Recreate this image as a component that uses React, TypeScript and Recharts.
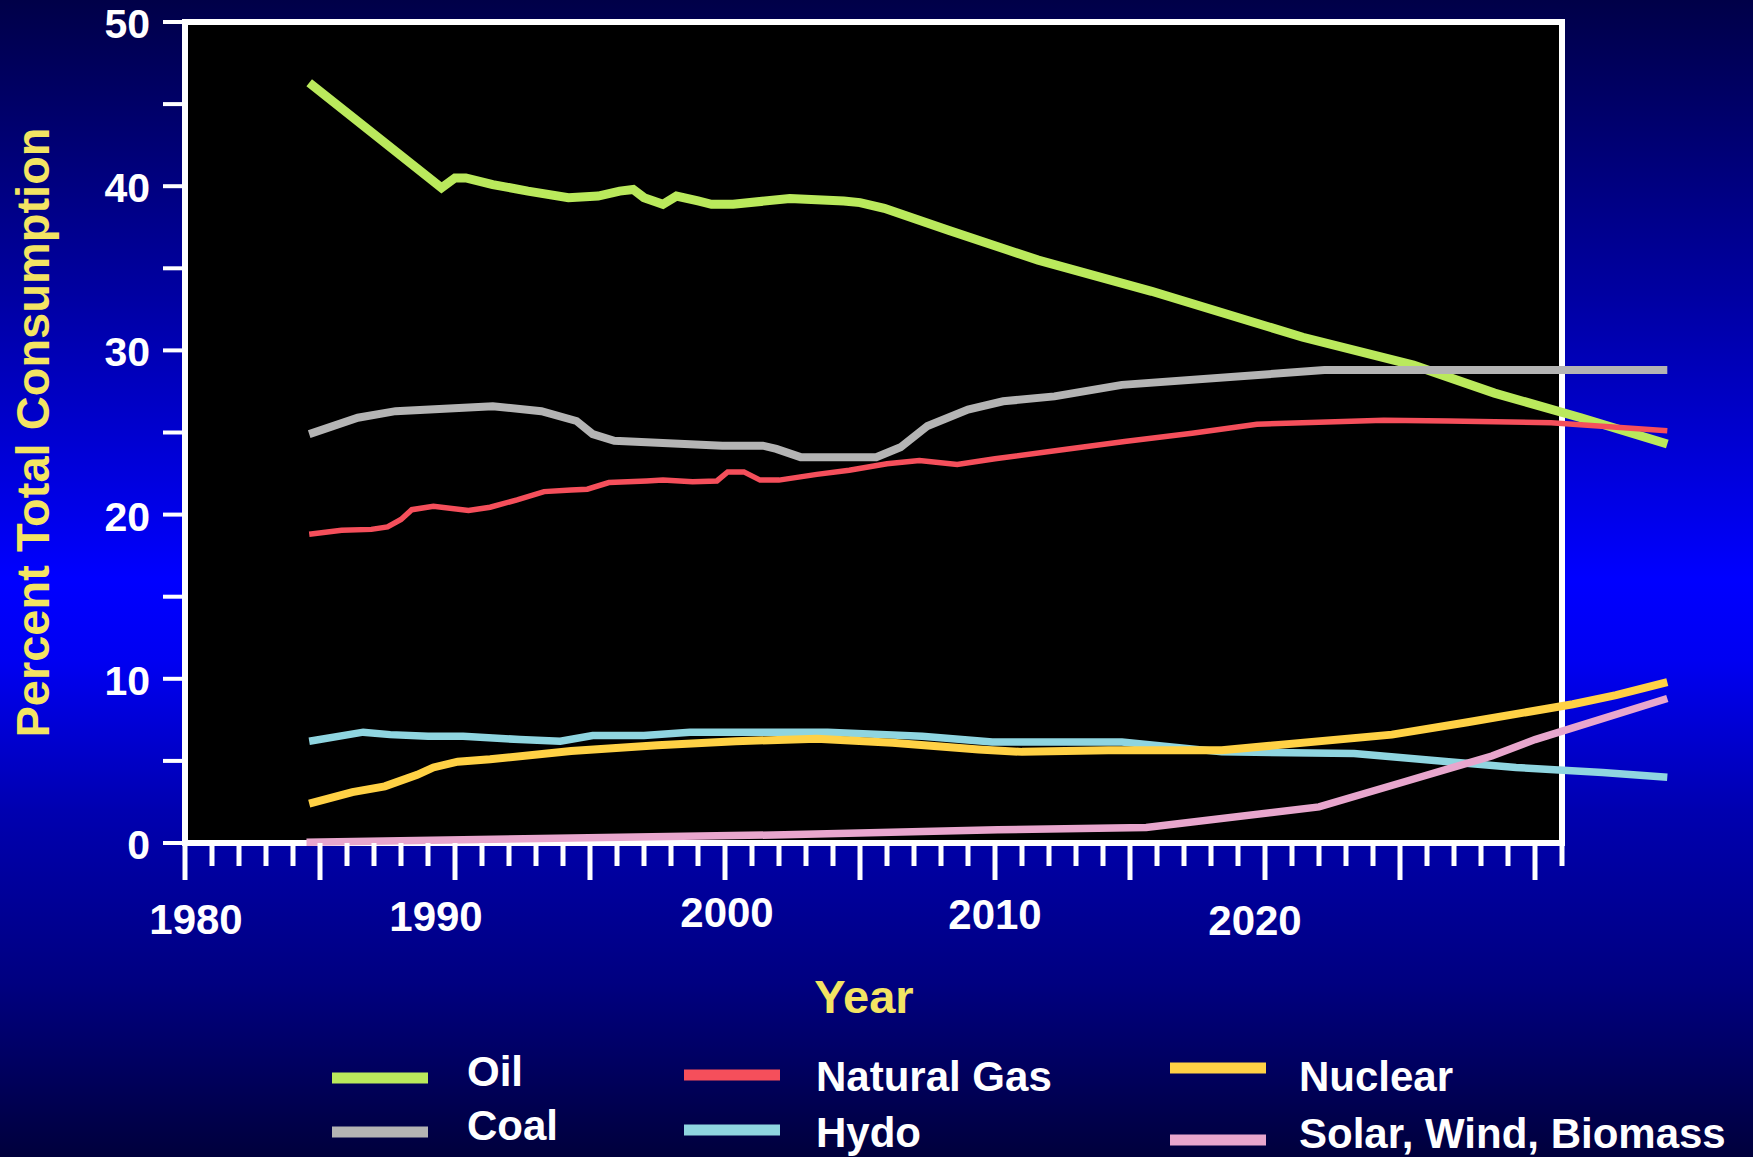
import { LineChart, Line, XAxis, YAxis, ReferenceArea, Legend } from "recharts";

const CHART_W = 1753;
const CHART_H = 1157;
const FONT = "'Liberation Sans', Arial, Helvetica, sans-serif";
const TITLE_COLOR = "#F3E463";

// share of total consumption (%) by source, x positions in years
const oilYears = [1984.6, 1989.5, 1990.0, 1990.4, 1991.4, 1992.7, 1994.2, 1995.3, 1996.1, 1996.6, 1997.0, 1997.7, 1998.2, 1999.0, 1999.5, 2000.3, 2002.4, 2004.4, 2005.0, 2005.9, 2008.3, 2011.6, 2015.8, 2021.4, 2025.5, 2028.5, 2031.7, 2034.9];
const oilShare = [46.3, 39.9, 40.5, 40.5, 40.1, 39.7, 39.3, 39.4, 39.7, 39.8, 39.3, 38.9, 39.4, 39.1, 38.9, 38.9, 39.25, 39.1, 39.0, 38.65, 37.3, 35.5, 33.6, 30.8, 29.1, 27.4, 25.9, 24.3];

const coalYears = [1984.6, 1986.4, 1987.8, 1991.4, 1993.2, 1994.5, 1995.1, 1995.9, 1999.9, 2001.4, 2001.9, 2002.8, 2005.6, 2006.5, 2007.5, 2009.0, 2010.3, 2012.2, 2014.7, 2022.2, 2034.9];
const coalShare = [24.9, 25.9, 26.3, 26.6, 26.3, 25.7, 24.9, 24.5, 24.2, 24.2, 24.0, 23.5, 23.5, 24.1, 25.4, 26.4, 26.9, 27.2, 27.9, 28.8, 28.8];

const gasYears = [1984.6, 1985.8, 1986.9, 1987.5, 1988.0, 1988.4, 1989.2, 1990.5, 1991.3, 1992.3, 1993.3, 1994.3, 1994.9, 1995.7, 1997.1, 1997.7, 1998.8, 1999.7, 2000.1, 2000.7, 2001.3, 2002.0, 2003.4, 2004.6, 2006.0, 2007.2, 2008.6, 2010.0, 2012.5, 2014.8, 2017.3, 2019.7, 2024.4, 2026.8, 2030.6, 2034.9];
const gasShare = [18.8, 19.05, 19.1, 19.25, 19.7, 20.3, 20.5, 20.25, 20.45, 20.9, 21.4, 21.5, 21.55, 21.95, 22.05, 22.1, 22.0, 22.05, 22.6, 22.6, 22.1, 22.1, 22.45, 22.7, 23.1, 23.3, 23.05, 23.4, 23.95, 24.45, 24.95, 25.5, 25.75, 25.7, 25.6, 25.1];

const hydroYears = [1984.6, 1986.6, 1987.6, 1989.0, 1990.3, 1992.4, 1993.9, 1995.1, 1997.0, 1998.7, 2003.8, 2007.3, 2009.9, 2014.7, 2018.4, 2023.3, 2026.8, 2029.3, 2032.5, 2034.9];
const hydroShare = [6.2, 6.75, 6.6, 6.5, 6.5, 6.3, 6.2, 6.55, 6.55, 6.75, 6.75, 6.5, 6.15, 6.15, 5.55, 5.45, 4.95, 4.6, 4.3, 4.0];

const nuclearYears = [1984.6, 1986.2, 1987.4, 1988.6, 1989.2, 1990.1, 1991.3, 1994.3, 1997.5, 2000.4, 2003.4, 2006.2, 2009.4, 2011.0, 2014.2, 2018.4, 2024.7, 2027.5, 2031.4, 2033.0, 2034.9];
const nuclearShare = [2.4, 3.1, 3.45, 4.15, 4.6, 4.95, 5.1, 5.6, 5.95, 6.2, 6.35, 6.1, 5.7, 5.55, 5.65, 5.65, 6.6, 7.35, 8.45, 9.0, 9.8];

const renewYears = [1984.5, 2002.2, 2010.1, 2015.6, 2022.0, 2025.1, 2028.4, 2030.0, 2034.9];
const renewShare = [0.05, 0.5, 0.8, 0.95, 2.2, 3.7, 5.3, 6.3, 8.8];

const pctTicks = [0, 5, 10, 15, 20, 25, 30, 35, 40, 45, 50];
const pctLabels = [0, 10, 20, 30, 40, 50];
const yearLabels = [1980, 1990, 2000, 2010, 2020];
// one tick mark per year along the bottom of the frame
const yearTicks = Array.from({ length: 52 }, (_, i) => 1980 + i);

// hand placement of the year labels (offset from tick, baseline below axis)
const yearLabelPlace: Record<number, { dx: number; dy: number }> = {
  1980: { dx: 11, dy: 91 },
  1990: { dx: -19, dy: 88 },
  2000: { dx: 2, dy: 84 },
  2010: { dx: 0, dy: 86 },
  2020: { dx: -10, dy: 92 },
};

const toPoints = (years: number[], values: number[]) =>
  years.map((year, i) => ({ year, value: values[i] }));

const series = [
  { key: "oil", name: "Oil", color: "#BAE95C", width: 9, data: toPoints(oilYears, oilShare) },
  { key: "coal", name: "Coal", color: "#B4B4B4", width: 8, data: toPoints(coalYears, coalShare) },
  { key: "gas", name: "Natural Gas", color: "#F54F5B", width: 5.5, data: toPoints(gasYears, gasShare) },
  { key: "hydro", name: "Hydo", color: "#8FD5E0", width: 7.5, data: toPoints(hydroYears, hydroShare) },
  { key: "nuclear", name: "Nuclear", color: "#FFD145", width: 8, data: toPoints(nuclearYears, nuclearShare) },
  { key: "renew", name: "Solar, Wind, Biomass", color: "#E8A6CD", width: 7.5, data: toPoints(renewYears, renewShare) },
];

// legend grid: swatch left edge, swatch centre, label left edge and baseline
const legendSpots: Record<string, { x: number; sy: number; tx: number; ty: number }> = {
  oil: { x: 332, sy: 1078, tx: 467, ty: 1086 },
  coal: { x: 332, sy: 1132, tx: 467, ty: 1140 },
  gas: { x: 684, sy: 1075, tx: 816, ty: 1091 },
  hydro: { x: 684, sy: 1130, tx: 816, ty: 1147 },
  nuclear: { x: 1170, sy: 1068, tx: 1299, ty: 1091 },
  renew: { x: 1170, sy: 1140, tx: 1299, ty: 1148 },
};

function YearTick(props: any) {
  const { x, y, payload } = props;
  const year = payload.value as number;
  const major = year % 5 === 0;
  const place = yearLabels.includes(year) ? yearLabelPlace[year] : null;
  return (
    <g>
      <line x1={x} x2={x} y1={y} y2={y + (major ? 37 : 23)} stroke="#fff" strokeWidth={5} />
      {place && (
        <text
          x={x + place.dx}
          y={y + place.dy}
          textAnchor="middle"
          fill="#fff"
          fontSize={42}
          fontWeight="bold"
          fontFamily={FONT}
        >
          {year}
        </text>
      )}
    </g>
  );
}

function PctTick(props: any) {
  const { x, y, payload } = props;
  if (!pctLabels.includes(payload.value)) return <g />;
  return (
    <text x={x} y={y + 16} textAnchor="end" fill="#fff" fontSize={41} fontWeight="bold" fontFamily={FONT}>
      {payload.value}
    </text>
  );
}

const yearTitle = (props: any) => {
  const vb = props.viewBox || { x: 185, y: 843 };
  return (
    <text x={vb.x + 679} y={vb.y + 170} textAnchor="middle" fill={TITLE_COLOR} fontSize={47} fontWeight="bold" fontFamily={FONT}>
      Year
    </text>
  );
};

const pctTitle = (props: any) => {
  const vb = props.viewBox || { x: 0, y: 22, width: 185, height: 821 };
  const cy = vb.y + vb.height / 2;
  return (
    <text
      transform={`translate(49, ${cy}) rotate(-90)`}
      textAnchor="middle"
      fill={TITLE_COLOR}
      fontSize={47}
      fontWeight="bold"
      fontFamily={FONT}
    >
      Percent Total Consumption
    </text>
  );
};

const renderLegend = () => (
  <svg width={CHART_W} height={CHART_H} style={{ position: "absolute", left: 0, top: 0, overflow: "visible" }}>
    {series.map((s) => {
      const spot = legendSpots[s.key];
      return (
        <g key={s.key}>
          <rect x={spot.x} y={spot.sy - 5.5} width={96} height={11} fill={s.color} />
          <text x={spot.tx} y={spot.ty} fill="#fff" fontSize={42} fontWeight="bold" fontFamily={FONT}>
            {s.name}
          </text>
        </g>
      );
    })}
  </svg>
);

export default function App() {
  return (
    <div
      style={{
        position: "absolute",
        left: 0,
        top: 0,
        width: CHART_W,
        height: CHART_H,
        background:
          "linear-gradient(to bottom, #000048 0%, #0000a0 25%, #0000ff 50%, #0000f2 57%, #0000b0 70%, #000080 85%, #00003c 100%)",
      }}
    >
      <LineChart width={CHART_W} height={CHART_H} margin={{ top: 22, right: 83, bottom: 114, left: 0 }}>
        <XAxis
          type="number"
          dataKey="year"
          domain={[1980, 2035]}
          ticks={yearTicks}
          interval={0}
          tick={<YearTick />}
          tickLine={false}
          axisLine={false}
          tickSize={0}
          tickMargin={0}
          height={200}
          label={yearTitle}
        />
        <YAxis
          type="number"
          domain={[0, 50]}
          ticks={pctTicks}
          interval={0}
          tick={<PctTick />}
          tickLine={{ stroke: "#fff", strokeWidth: 4 }}
          axisLine={false}
          tickSize={22}
          tickMargin={13}
          width={185}
          label={pctTitle}
        />
        <ReferenceArea x1={1980} x2={2031} y1={0} y2={50} fill="#000" fillOpacity={1} stroke="#fff" strokeWidth={6} />
        {series.map((s) => (
          <Line
            key={s.key}
            data={s.data}
            dataKey="value"
            name={s.name}
            type="linear"
            stroke={s.color}
            strokeWidth={s.width}
            strokeLinejoin="miter"
            strokeLinecap="butt"
            dot={false}
            activeDot={false}
            isAnimationActive={false}
          />
        ))}
        <Legend
          layout="vertical"
          align="center"
          verticalAlign="middle"
          content={renderLegend}
          wrapperStyle={{ position: "absolute", left: 0, top: 0, width: CHART_W, height: CHART_H, pointerEvents: "none", margin: 0, padding: 0 }}
        />
      </LineChart>
    </div>
  );
}
